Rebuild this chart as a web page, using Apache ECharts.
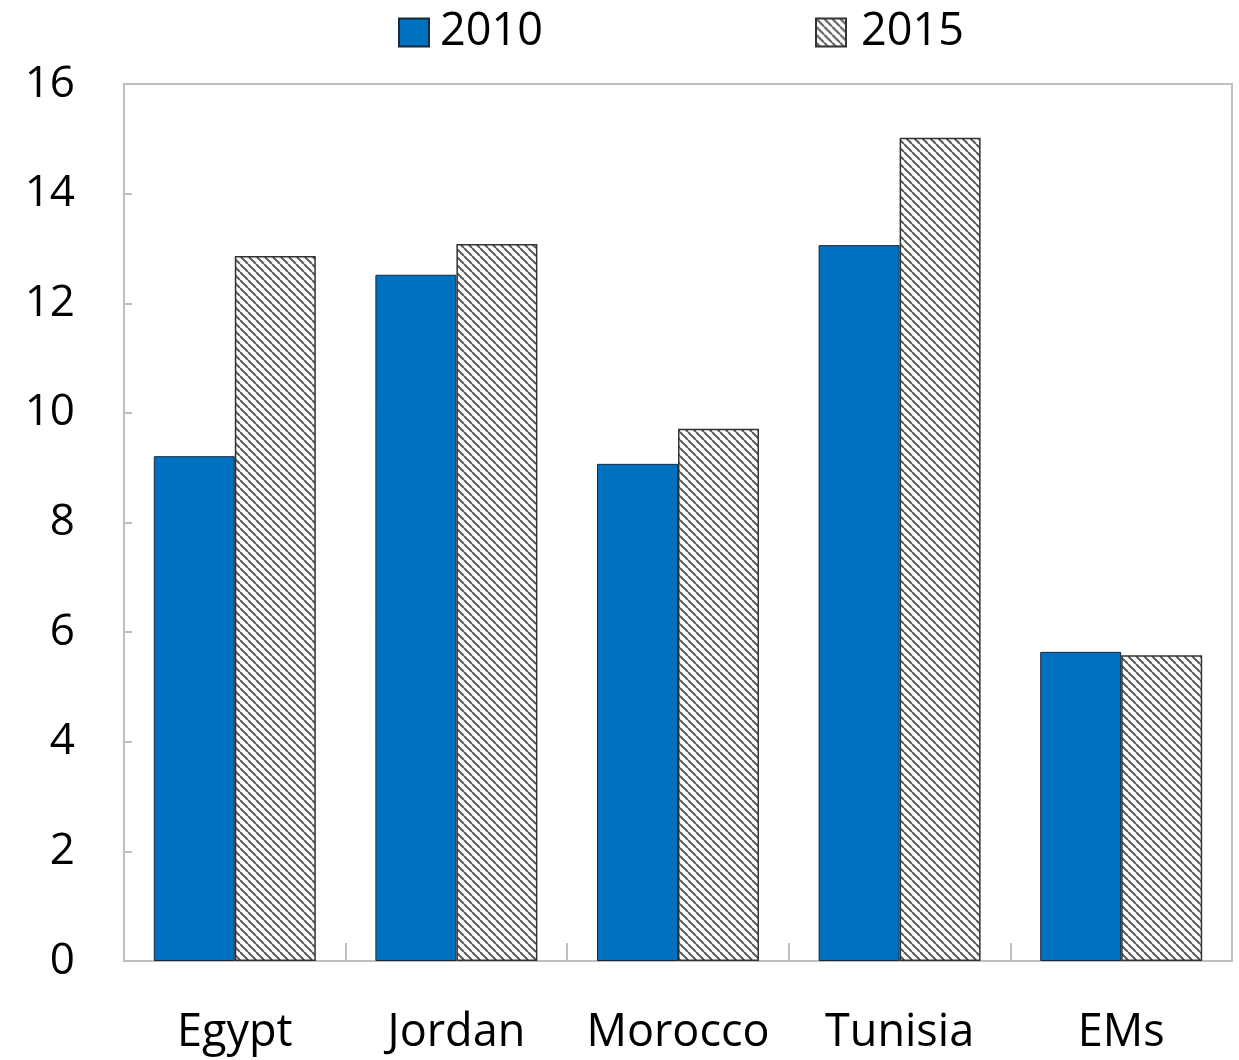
<!DOCTYPE html>
<html>
<head>
<meta charset="utf-8">
<script src="https://cdn.jsdelivr.net/npm/echarts@6/dist/echarts.min.js"></script>
<style>
html,body{margin:0;padding:0;background:#fff;}
#chart{width:1239px;height:1060px;}
</style>
</head>
<body>
<div id="chart"></div>
<script>
const categories = ['Egypt', 'Jordan', 'Morocco', 'Tunisia', 'EMs'];
const seriesNames = ['2010', '2015'];
const values2010 = [9.21, 12.52, 9.07, 13.06, 5.64];
const values2015 = [12.86, 13.08, 9.71, 15.02, 5.58];
const yTicks = [0, 2, 4, 6, 8, 10, 12, 14, 16];

function makeHatch() {
  const c = document.createElement('canvas');
  const s = 8;
  c.width = s; c.height = s;
  const ctx = c.getContext('2d');
  ctx.fillStyle = '#ffffff';
  ctx.fillRect(0, 0, s, s);
  ctx.strokeStyle = '#5a5a5a';
  ctx.lineWidth = 2;
  for (const k of [-s, 0, s]) {
    ctx.beginPath();
    ctx.moveTo(k, 0);
    ctx.lineTo(k + s, s);
    ctx.stroke();
  }
  return c;
}
const hatch = makeHatch();
const FONT = '"Open Sans", "Noto Sans", sans-serif';

const chart = echarts.init(document.getElementById('chart'), null, {renderer: 'canvas'});
chart.setOption({
  animation: false,
  backgroundColor: '#ffffff',
  textStyle: {fontFamily: FONT},
  legend: [
    {
      data: [{name: seriesNames[0], icon: 'rect'}],
      left: 398, top: 10, padding: 0,
      itemWidth: 30, itemHeight: 28,
      textStyle: {fontSize: 45, color: '#000', fontFamily: FONT, padding: [0, 0, 0, 6]}
    },
    {
      data: [{name: seriesNames[1], icon: 'rect'}],
      left: 815, top: 10, padding: 0,
      itemWidth: 30, itemHeight: 28,
      textStyle: {fontSize: 45, color: '#000', fontFamily: FONT, padding: [0, 0, 0, 10]}
    }
  ],
  grid: {
    left: 124, right: 7, top: 84, bottom: 99,
    show: true, borderColor: '#bfbfbf', borderWidth: 2, backgroundColor: 'transparent',
    containLabel: false
  },
  xAxis: {
    type: 'category',
    data: categories,
    axisLine: {show: true, lineStyle: {color: '#bfbfbf', width: 2}},
    axisTick: {show: true, inside: true, length: 18, interval: 0, lineStyle: {color: '#bfbfbf', width: 2}},
    axisLabel: {fontSize: 45, color: '#000', margin: 50, interval: 0, hideOverlap: false, fontFamily: FONT},
    splitLine: {show: false}
  },
  yAxis: {
    type: 'value',
    min: yTicks[0], max: yTicks[yTicks.length - 1], interval: yTicks[1] - yTicks[0],
    axisLine: {show: true, lineStyle: {color: '#bfbfbf', width: 2}},
    axisTick: {show: true, inside: true, length: 8, lineStyle: {color: '#bfbfbf', width: 2}},
    axisLabel: {fontSize: 44, color: '#000', margin: 49, fontFamily: FONT},
    splitLine: {show: false}
  },
  series: [
    {
      name: seriesNames[0],
      type: 'bar',
      data: values2010,
      barWidth: 81,
      barGap: '0%',
      itemStyle: {color: '#0070C0', borderColor: '#1a2a3a', borderWidth: 1}
    },
    {
      name: seriesNames[1],
      type: 'bar',
      data: values2015,
      barWidth: 81,
      barGap: '0%',
      itemStyle: {color: {image: hatch, repeat: 'repeat'}, borderColor: '#333', borderWidth: 1.5}
    }
  ]
});
</script>
</body>
</html>
